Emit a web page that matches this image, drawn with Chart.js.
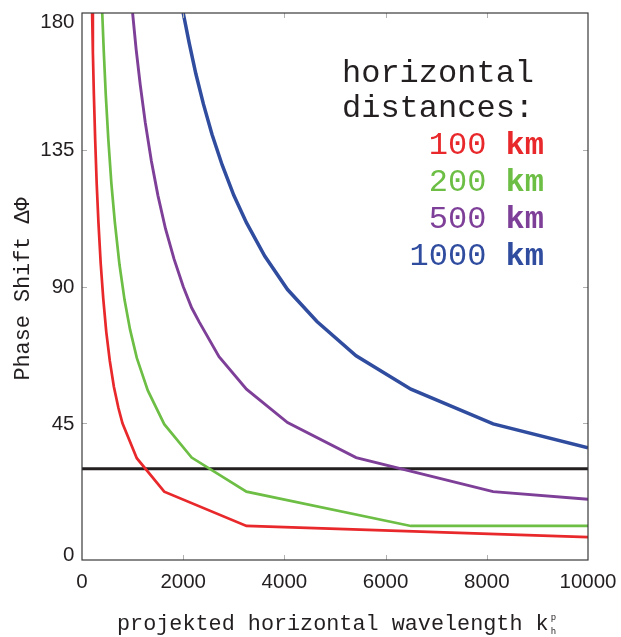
<!DOCTYPE html>
<html lang="en">
<head>
<meta charset="UTF-8">
<title>Phase Shift</title>
<script src="https://cdn.jsdelivr.net/npm/chart.js"></script>
<style>
  html, body { margin: 0; padding: 0; background: #fff; }
</style>
</head>
<body>
<canvas id="phaseChart" width="621" height="637"></canvas>
<script>
// projected horizontal wavelength (x) and phase shift (y)
var wl100 = [200, 215, 235, 260, 290, 325, 370, 420, 480, 550, 630, 720, 800, 1083, 1625, 3250, 10000];
var ph100 = [180, 167, 153, 138.5, 124, 111, 97.5, 86, 75, 65.5, 57, 50, 45, 33.5, 22.5, 11.2, 7.5];

var wl200 = [400, 430, 470, 520, 580, 650, 740, 840, 950, 1083, 1300, 1625, 2167, 3250, 6500, 10000];
var ph200 = [180, 167.5, 153, 138.5, 124, 111, 97.3, 85.7, 75.8, 66.5, 55.8, 44.7, 33.7, 22.5, 11.2, 11.2];

var wl500 = [1000, 1070, 1150, 1250, 1370, 1500, 1650, 1820, 2000, 2167, 2321, 2708, 3250, 4062, 5417, 8125, 10000];
var ph500 = [180, 168, 156.5, 144, 131.4, 120, 109, 99, 90, 83, 78.2, 66.9, 56.2, 45.2, 33.7, 22.5, 20];

var wl1000 = [2000, 2120, 2250, 2400, 2570, 2770, 3000, 3250, 3611, 4062, 4643, 5417, 6500, 8125, 10000];
var ph1000 = [180, 170, 160, 150, 140, 130, 120, 111, 100, 89, 78.5, 67.2, 56.2, 44.8, 36.9];

var threshold = 30;
var distLabels = ['100', '200', '500', '1000'];
var distColors = ['#e8282b', '#6dbe45', '#7e3f98', '#2f4c9f'];
var xTicks = [0, 2000, 4000, 6000, 8000, 10000];
var yTicks = [0, 45, 90, 135, 180];
var xTitle = 'projekted horizontal wavelength k';
var yTitle = 'Phase Shift \u0394\u03A6';

function pts(xs, ys) {
    return xs.map(function (x, i) { return { x: x, y: ys[i] }; });
}

var ink = '#231f20';
var tickFont = '"Liberation Sans", Arial, sans-serif';
var monoFont = '"Liberation Mono", "Courier New", monospace';

var decor = {
    id: 'decor',
    afterDraw: function (chart) {
        var ctx = chart.ctx;
        var a = chart.chartArea;
        var xs = chart.scales.x, ys = chart.scales.y;
        ctx.save();

        // inward ticks
        ctx.strokeStyle = '#b0b0b0';
        ctx.lineWidth = 1;
        ctx.beginPath();
        xTicks.forEach(function (v) {
            if (v <= xs.min || v >= xs.max) return;
            var px = Math.round(xs.getPixelForValue(v)) + 0.5;
            ctx.moveTo(px, a.bottom); ctx.lineTo(px, a.bottom - 5);
            ctx.moveTo(px, a.top); ctx.lineTo(px, a.top + 5);
        });
        yTicks.forEach(function (v) {
            if (v <= ys.min || v >= ys.max) return;
            var py = Math.round(ys.getPixelForValue(v)) + 0.5;
            ctx.moveTo(a.left, py); ctx.lineTo(a.left + 5, py);
            ctx.moveTo(a.right, py); ctx.lineTo(a.right - 5, py);
        });
        ctx.stroke();

        // frame
        ctx.strokeStyle = '#3a3a3a';
        ctx.lineWidth = 1.2;
        ctx.strokeRect(a.left, a.top, a.right - a.left, a.bottom - a.top);

        // tick labels; y labels kept inside the axis box at the ends
        ctx.fillStyle = ink;
        ctx.font = '20.5px ' + tickFont;
        ctx.textAlign = 'center';
        ctx.textBaseline = 'middle';
        xTicks.forEach(function (v) {
            ctx.fillText(String(v), xs.getPixelForValue(v), a.bottom + 22);
        });
        ctx.textAlign = 'right';
        yTicks.forEach(function (v) {
            var py = ys.getPixelForValue(v);
            py = Math.max(py, a.top + 8);
            py = Math.min(py, a.bottom - 5.5);
            ctx.fillText(String(v), 74.5, py + 1);
        });

        // axis titles
        ctx.font = '21.8px ' + monoFont;
        ctx.textAlign = 'left';
        ctx.textBaseline = 'alphabetic';
        ctx.fillText(xTitle, 117, 630);
        var w = ctx.measureText(xTitle).width;
        ctx.font = '9px ' + monoFont;
        ctx.fillText('p', 117 + w + 2, 620);
        ctx.fillText('h', 117 + w + 2, 634);

        ctx.save();
        ctx.translate(28.5, 289);
        ctx.rotate(-Math.PI / 2);
        ctx.font = '21.8px ' + monoFont;
        ctx.textAlign = 'center';
        ctx.fillText(yTitle, 0, 0);
        ctx.restore();

        // legend text
        ctx.font = '32px ' + monoFont;
        ctx.textAlign = 'left';
        ctx.fillStyle = ink;
        ctx.fillText('horizontal', 342, 82);
        ctx.fillText('distances:', 342, 117);
        var base = [154, 191, 228, 265];
        distLabels.forEach(function (lab, i) {
            ctx.fillStyle = distColors[i];
            ctx.textAlign = 'right';
            ctx.font = 'bold 32px ' + monoFont;
            ctx.fillText('km', 544, base[i]);
            var kw = ctx.measureText('km').width;
            ctx.font = '32px ' + monoFont;
            ctx.fillText(lab + ' ', 544 - kw, base[i]);
        });

        ctx.restore();
    }
};

new Chart(document.getElementById('phaseChart').getContext('2d'), {
    type: 'line',
    data: {
        datasets: [
            { label: '100 km', data: pts(wl100, ph100), borderColor: distColors[0], borderWidth: 2.7 },
            { label: '200 km', data: pts(wl200, ph200), borderColor: distColors[1], borderWidth: 2.7 },
            { label: '500 km', data: pts(wl500, ph500), borderColor: distColors[2], borderWidth: 2.9 },
            { label: '1000 km', data: pts(wl1000, ph1000), borderColor: distColors[3], borderWidth: 3.5 },
            { label: 'threshold', data: pts([0, 10000], [threshold, threshold]), borderColor: ink, borderWidth: 3 }
        ]
    },
    options: {
        responsive: false,
        animation: false,
        devicePixelRatio: 1,
        elements: { point: { radius: 0 }, line: { tension: 0, fill: false } },
        layout: { padding: { left: 0, right: 33, top: 13, bottom: 0 } },
        plugins: { legend: { display: false }, tooltip: { enabled: false } },
        scales: {
            x: {
                type: 'linear', min: 0, max: 10000,
                grid: { display: false, drawTicks: false },
                border: { display: false },
                ticks: { display: false, stepSize: 2000 },
                afterFit: function (s) { s.height = 77; }
            },
            y: {
                type: 'linear', min: 0, max: 180,
                grid: { display: false, drawTicks: false },
                border: { display: false },
                ticks: { display: false, stepSize: 45 },
                afterFit: function (s) { s.width = 82; }
            }
        }
    },
    plugins: [decor]
});
</script>
</body>
</html>
